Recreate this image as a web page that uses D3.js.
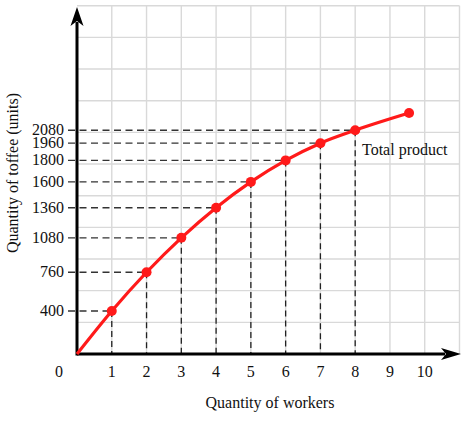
<!DOCTYPE html>
<html>
<head>
<meta charset="utf-8">
<script src="https://cdn.jsdelivr.net/npm/d3@7"></script>
<style>
  body { margin: 0; background: #fff; }
  text { font-family: "Liberation Serif", "Times New Roman", serif; fill: #111; }
</style>
</head>
<body>
<svg id="chart"></svg>
<script>
const workers = [1, 2, 3, 4, 5, 6, 7, 8];
const toffee = [400, 760, 1080, 1360, 1600, 1800, 1960, 2080];
const xTickLabels = [1, 2, 3, 4, 5, 6, 7, 8, 9, 10];
const yTickLabels = [400, 760, 1080, 1360, 1600, 1800, 1960, 2080];
const curveStart = [0, 0];
const curveEnd = [9.55, 2240];

function main() {
    const width = 464;
    const height = 427;
    const x0 = 77, x1 = 459.5, yBottom = 354, yTop = 5.7;

    const svg = d3.select("#chart").attr("width", width).attr("height", height);

    const x = d3.scaleLinear().domain([0, 11]).range([x0, x1]);
    const y = d3.scaleLinear().domain([0, 3238]).range([yBottom, yTop]);
    const gridY = d3.scaleLinear().domain([0, 11]).range([yBottom, yTop]);

    // grid
    const grid = svg.append("g").attr("stroke", "#d9d9d9").attr("stroke-width", 1.4);
    grid.selectAll(".gv").data(d3.range(1, 12)).join("line")
        .attr("x1", d => x(d)).attr("x2", d => x(d))
        .attr("y1", yTop).attr("y2", yBottom);
    grid.selectAll(".gh").data(d3.range(1, 12)).join("line")
        .attr("x1", x0).attr("x2", x1)
        .attr("y1", d => gridY(d)).attr("y2", d => gridY(d));

    const points = workers.map((w, i) => [w, toffee[i]]);

    // dashed guides
    const guides = svg.append("g").attr("fill", "none");
    guides.selectAll(".h").data(points).join("line")
        .attr("x1", 68).attr("x2", d => x(d[0]))
        .attr("y1", d => y(d[1])).attr("y2", d => y(d[1]))
        .attr("stroke", "#333").attr("stroke-width", 1.4)
        .attr("stroke-dasharray", "7,4.5");
    guides.selectAll(".v").data(points).join("line")
        .attr("x1", d => x(d[0])).attr("x2", d => x(d[0]))
        .attr("y1", d => y(d[1])).attr("y2", yBottom)
        .attr("stroke", "#222").attr("stroke-width", 1.3)
        .attr("stroke-dasharray", "6,4");

    // axes
    const axes = svg.append("g");
    axes.append("line").attr("x1", x0).attr("x2", 445).attr("y1", yBottom).attr("y2", yBottom)
        .attr("stroke", "#000").attr("stroke-width", 3);
    axes.append("line").attr("x1", x0).attr("x2", x0).attr("y1", yBottom + 1.5).attr("y2", 22)
        .attr("stroke", "#000").attr("stroke-width", 3);
    axes.append("path")
        .attr("d", `M${x0},7 L${x0 + 6.5},26 L${x0},21 L${x0 - 6.5},26 Z`)
        .attr("fill", "#000");
    axes.append("path")
        .attr("d", `M461,${yBottom} L441,${yBottom - 6} L446,${yBottom} L441,${yBottom + 6} Z`)
        .attr("fill", "#000");

    // curve
    const line = d3.line().x(d => x(d[0])).y(d => y(d[1])).curve(d3.curveMonotoneX);
    svg.append("path")
        .datum([curveStart].concat(points, [curveEnd]))
        .attr("d", line)
        .attr("fill", "none").attr("stroke", "#ff1a1a").attr("stroke-width", 3.2);
    svg.selectAll(".dot").data(points.concat([curveEnd])).join("circle")
        .attr("cx", d => x(d[0])).attr("cy", d => y(d[1])).attr("r", 5)
        .attr("fill", "#ff1a1a");

    // tick labels
    svg.selectAll(".yl").data(yTickLabels).join("text")
        .attr("x", 64).attr("y", d => y(d) + 5)
        .attr("text-anchor", "end").attr("font-size", 16)
        .text(d => d);
    svg.selectAll(".xl").data(xTickLabels).join("text")
        .attr("x", d => x(d)).attr("y", 377)
        .attr("text-anchor", "middle").attr("font-size", 16)
        .text(d => d);
    svg.append("text").attr("x", 59).attr("y", 377)
        .attr("text-anchor", "middle").attr("font-size", 16).text("0");

    // titles
    svg.append("text").attr("x", 270).attr("y", 408)
        .attr("text-anchor", "middle").attr("font-size", 16)
        .text("Quantity of workers");
    svg.append("text")
        .attr("transform", "translate(18,173) rotate(-90)")
        .attr("text-anchor", "middle").attr("font-size", 16)
        .text("Quantity of toffee (units)");
    svg.append("text").attr("x", 362).attr("y", 155)
        .attr("font-size", 16).text("Total product");
}

main();
</script>
</body>
</html>
